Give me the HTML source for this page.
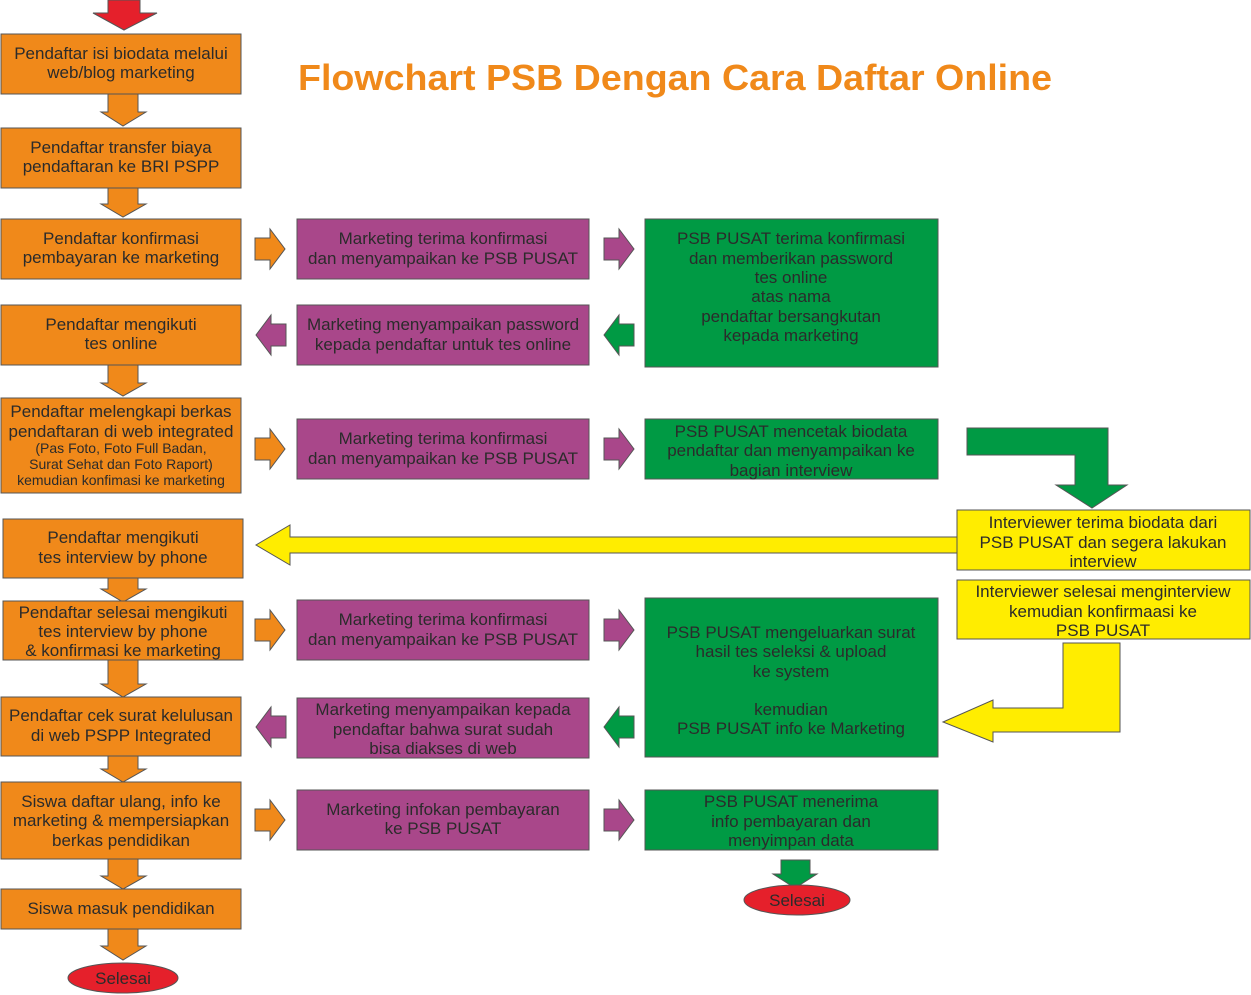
<!DOCTYPE html>
<html><head><meta charset="utf-8"><style>
html,body{margin:0;padding:0;background:#fff}
svg{display:block}
text{font-family:"Liberation Sans",Arial,sans-serif;fill:#2b2b2b;text-anchor:middle}
.o{fill:#F0891A;stroke:#555;stroke-width:1}
.p{fill:#A9478A;stroke:#555;stroke-width:1}
.g{fill:#009A44;stroke:#555;stroke-width:1}
.y{fill:#FFED00;stroke:#555;stroke-width:1}
.r{fill:#E5202B;stroke:#555;stroke-width:1}
.t{font-size:17px}
.s{font-size:14px}
</style></head><body>
<svg width="1251" height="995" viewBox="0 0 1251 995" xmlns="http://www.w3.org/2000/svg">
<text x="675" y="90" style="font-size:36px;font-weight:bold;fill:#F0891A" textLength="754" lengthAdjust="spacingAndGlyphs">Flowchart PSB Dengan Cara Daftar Online</text>

<polygon class="r" points="108,0 140,0 140,13 157,13 124,30 93,13 108,13"/>

<polygon class="o" points="108,94 138,94 138,112 146,112 123,126 101,112 108,112"/>
<polygon class="o" points="108,188 138,188 138,204 146,204 123,217 101,204 108,204"/>
<polygon class="o" points="108,365 138,365 138,383 146,383 123,396 101,383 108,383"/>
<polygon class="o" points="108,578 138,578 138,589 146,589 123,602 101,589 108,589"/>
<polygon class="o" points="108,660 138,660 138,684 146,684 123,697 101,684 108,684"/>
<polygon class="o" points="108,756 138,756 138,769 146,769 123,782 101,769 108,769"/>
<polygon class="o" points="108,859 138,859 138,876 146,876 123,889 101,876 108,876"/>
<polygon class="o" points="108,929 138,929 138,946 146,946 123,960 101,946 108,946"/>

<rect class="o" x="1" y="34" width="240" height="60"/>
<text class="t" x="121" y="59">Pendaftar isi biodata melalui</text><text class="t" x="121" y="78">web/blog marketing</text>
<rect class="o" x="1" y="128" width="240" height="60"/>
<text class="t" x="121" y="153">Pendaftar transfer biaya</text><text class="t" x="121" y="172">pendaftaran ke BRI PSPP</text>
<rect class="o" x="1" y="219" width="240" height="60"/>
<text class="t" x="121" y="244">Pendaftar konfirmasi</text><text class="t" x="121" y="263">pembayaran ke marketing</text>
<rect class="o" x="1" y="305" width="240" height="60"/>
<text class="t" x="121" y="330">Pendaftar mengikuti</text><text class="t" x="121" y="349">tes online</text>
<rect class="o" x="1" y="398" width="240" height="95"/>
<text class="t" x="121" y="417">Pendaftar melengkapi berkas</text><text class="t" x="121" y="437">pendaftaran di web integrated</text>
<text class="s" x="121" y="453">(Pas Foto, Foto Full Badan,</text><text class="s" x="121" y="469">Surat Sehat dan Foto Raport)</text><text class="s" x="121" y="485">kemudian konfimasi ke marketing</text>
<rect class="o" x="3" y="519" width="240" height="59"/>
<text class="t" x="123" y="543">Pendaftar mengikuti</text><text class="t" x="123" y="563">tes interview by phone</text>
<rect class="o" x="3" y="601" width="240" height="59"/>
<text class="t" x="123" y="618">Pendaftar selesai mengikuti</text><text class="t" x="123" y="637">tes interview by phone</text><text class="t" x="123" y="656">&amp; konfirmasi ke marketing</text>
<rect class="o" x="1" y="697" width="240" height="59"/>
<text class="t" x="121" y="721">Pendaftar cek surat kelulusan</text><text class="t" x="121" y="741">di web PSPP Integrated</text>
<rect class="o" x="1" y="782" width="240" height="77"/>
<text class="t" x="121" y="807">Siswa daftar ulang, info ke</text><text class="t" x="121" y="826">marketing &amp; mempersiapkan</text><text class="t" x="121" y="846">berkas pendidikan</text>
<rect class="o" x="1" y="889" width="240" height="40"/>
<text class="t" x="121" y="914">Siswa masuk pendidikan</text>
<ellipse class="r" cx="123" cy="978" rx="55" ry="15"/>
<text class="t" x="123" y="984">Selesai</text>

<polygon class="o" points="255,238 270,238 270,229 285,249 270,269 270,260 255,260"/>
<polygon class="p" points="286,324 271,324 271,315 256,335 271,355 271,346 286,346"/>
<polygon class="o" points="255,438 270,438 270,429 285,449 270,469 270,460 255,460"/>
<polygon class="o" points="255,619 270,619 270,610 285,630 270,650 270,641 255,641"/>
<polygon class="p" points="286,716 271,716 271,707 256,727 271,747 271,738 286,738"/>
<polygon class="o" points="255,809 270,809 270,800 285,820 270,840 270,831 255,831"/>

<polygon class="p" points="604,238 619,238 619,229 634,249 619,269 619,260 604,260"/>
<polygon class="g" points="634,324 619,324 619,315 604,335 619,355 619,346 634,346"/>
<polygon class="p" points="604,438 619,438 619,429 634,449 619,469 619,460 604,460"/>
<polygon class="p" points="604,619 619,619 619,610 634,630 619,650 619,641 604,641"/>
<polygon class="g" points="634,716 619,716 619,707 604,727 619,747 619,738 634,738"/>
<polygon class="p" points="604,809 619,809 619,800 634,820 619,840 619,831 604,831"/>

<rect class="p" x="297" y="219" width="292" height="60"/>
<text class="t" x="443" y="244">Marketing terima konfirmasi</text><text class="t" x="443" y="264">dan menyampaikan ke PSB PUSAT</text>
<rect class="p" x="297" y="305" width="292" height="60"/>
<text class="t" x="443" y="330">Marketing menyampaikan password</text><text class="t" x="443" y="350">kepada pendaftar untuk tes online</text>
<rect class="p" x="297" y="419" width="292" height="60"/>
<text class="t" x="443" y="444">Marketing terima konfirmasi</text><text class="t" x="443" y="464">dan menyampaikan ke PSB PUSAT</text>
<rect class="p" x="297" y="600" width="292" height="60"/>
<text class="t" x="443" y="625">Marketing terima konfirmasi</text><text class="t" x="443" y="645">dan menyampaikan ke PSB PUSAT</text>
<rect class="p" x="297" y="698" width="292" height="60"/>
<text class="t" x="443" y="715">Marketing menyampaikan kepada</text><text class="t" x="443" y="735">pendaftar bahwa surat sudah</text><text class="t" x="443" y="754">bisa diakses di web</text>
<rect class="p" x="297" y="790" width="292" height="60"/>
<text class="t" x="443" y="815">Marketing infokan pembayaran</text><text class="t" x="443" y="834">ke PSB PUSAT</text>

<rect class="g" x="645" y="219" width="293" height="148"/>
<text class="t" x="791" y="244">PSB PUSAT terima konfirmasi</text><text class="t" x="791" y="264">dan memberikan password</text><text class="t" x="791" y="283">tes online</text><text class="t" x="791" y="302">atas nama</text><text class="t" x="791" y="322">pendaftar bersangkutan</text><text class="t" x="791" y="341">kepada marketing</text>
<rect class="g" x="645" y="419" width="293" height="60"/>
<text class="t" x="791" y="437">PSB PUSAT mencetak biodata</text><text class="t" x="791" y="456">pendaftar dan menyampaikan ke</text><text class="t" x="791" y="476">bagian interview</text>
<rect class="g" x="645" y="598" width="293" height="159"/>
<text class="t" x="791" y="638">PSB PUSAT mengeluarkan surat</text><text class="t" x="791" y="657">hasil tes seleksi &amp; upload</text><text class="t" x="791" y="677">ke system</text><text class="t" x="791" y="715">kemudian</text><text class="t" x="791" y="734">PSB PUSAT info ke Marketing</text>
<rect class="g" x="645" y="790" width="293" height="60"/>
<text class="t" x="791" y="807">PSB PUSAT menerima</text><text class="t" x="791" y="827">info pembayaran dan</text><text class="t" x="791" y="846">menyimpan data</text>
<polygon class="g" points="781,860 810,860 810,874 817,874 795,888 773,874 781,874"/>
<ellipse class="r" cx="797" cy="900" rx="53" ry="15"/>
<text class="t" x="797" y="906">Selesai</text>

<polygon class="g" points="967,428 1108,428 1108,485 1127,485 1092,508 1056,485 1075,485 1075,455 967,455"/>

<polygon class="y" points="957,537 290,537 290,525 256,545 290,565 290,553 957,553"/>

<rect class="y" x="957" y="510" width="293" height="60"/>
<text class="t" x="1103" y="528">Interviewer terima biodata dari</text><text class="t" x="1103" y="548">PSB PUSAT dan segera lakukan</text><text class="t" x="1103" y="567">interview</text>
<rect class="y" x="957" y="580" width="293" height="59"/>
<text class="t" x="1103" y="597">Interviewer selesai menginterview</text><text class="t" x="1103" y="617">kemudian konfirmaasi ke</text><text class="t" x="1103" y="636">PSB PUSAT</text>

<polygon class="y" points="1063,643 1120,643 1120,732 993,732 993,742 943,722 993,700 993,708 1063,708"/>
</svg>
</body></html>
